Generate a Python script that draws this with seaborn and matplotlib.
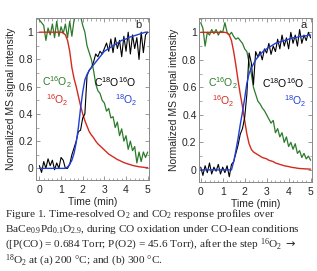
import numpy as np
import matplotlib
matplotlib.use("Agg")
import matplotlib.pyplot as plt
from matplotlib.ticker import MultipleLocator
import seaborn as sns

# time axis (min), 0.1 min sampling
time = np.linspace(0, 5, 51)

# panel b (300 C) - left
b_green = [1.09, 1.07, 1.05, 0.94, 1.03, 0.98, 1.06, 0.96, 1.08, 0.97,
           1.04, 0.99, 1.06, 0.96, 1.08, 0.97, 1.09, 1.12, 1.14, 1.12,
           1.05, 1.00, 0.90, 0.85, 0.80, 0.72, 0.62, 0.57, 0.55, 0.50,
           0.48, 0.42, 0.44, 0.37, 0.38, 0.30, 0.34, 0.24, 0.29, 0.20,
           0.24, 0.14, 0.20, 0.13, 0.16, 0.04, 0.12, 0.05, 0.12, 0.08, 0.12]
b_black = [0.02, -0.03, 0.05, 0.00, 0.07, 0.02, 0.06, -0.01, 0.04, 0.00,
           0.08, 0.06, 0.00, 0.00, 0.03, 0.10, 0.15, 0.20, 0.27, 0.28,
           0.37, 0.40, 0.68, 0.72, 0.74, 0.78, 0.84, 0.82, 0.86, 0.84,
           0.88, 0.92, 0.86, 0.95, 0.85, 0.96, 0.88, 0.94, 0.82, 0.97,
           0.86, 1.00, 0.84, 0.98, 0.88, 0.96, 0.80, 1.00, 0.85, 0.98, 1.00]
b_blue = [0.0, 0.0, 0.0, 0.0, 0.0, 0.0, 0.0, 0.0, 0.0, 0.0,
          0.0, 0.0, 0.0, 0.01, 0.03, 0.06, 0.11, 0.19, 0.30, 0.44,
          0.56, 0.65, 0.69, 0.72, 0.74, 0.76, 0.78, 0.80, 0.82, 0.84,
          0.86, 0.87, 0.88, 0.89, 0.90, 0.91, 0.92, 0.93, 0.94, 0.945,
          0.95, 0.96, 0.965, 0.97, 0.975, 0.98, 0.985, 0.99, 0.995, 1.0, 1.0]
b_red = [1.0, 1.0, 1.0, 1.0, 1.0, 1.0, 1.0, 1.0, 1.0, 1.0,
         1.0, 0.995, 0.98, 0.94, 0.86, 0.74, 0.66, 0.60, 0.53, 0.46,
         0.40, 0.35, 0.31, 0.27, 0.245, 0.225, 0.20, 0.18, 0.165, 0.15,
         0.135, 0.12, 0.105, 0.095, 0.085, 0.075, 0.065, 0.058, 0.05, 0.043,
         0.037, 0.032, 0.027, 0.022, 0.018, 0.015, 0.012, 0.01, 0.008, 0.006, 0.005]

# panel a (200 C) - right
a_green = [1.07, 1.03, 0.90, 1.00, 0.98, 1.02, 0.99, 1.02, 0.98, 1.01,
           1.00, 1.07, 1.00, 0.98, 1.00, 0.97, 0.95, 0.96, 0.94, 0.92,
           0.88, 0.86, 0.78, 0.70, 0.60, 0.55, 0.50, 0.48, 0.45, 0.43,
           0.40, 0.37, 0.34, 0.36, 0.27, 0.30, 0.24, 0.27, 0.20, 0.24,
           0.17, 0.20, 0.15, 0.19, 0.12, 0.14, 0.09, 0.12, 0.08, 0.10, 0.07]
a_black = [0.02, -0.04, 0.03, -0.02, 0.05, -0.03, 0.02, -0.01, 0.04, -0.03,
           0.02, -0.02, 0.03, -0.05, 0.04, 0.06, 0.12, 0.18, 0.26, 0.30,
           0.38, 0.55, 0.85, 0.78, 0.62, 0.86, 0.82, 0.86, 0.80, 0.88,
           0.85, 0.92, 0.84, 0.90, 0.86, 0.95, 0.88, 0.98, 0.90, 0.96,
           0.88, 1.00, 0.92, 0.98, 0.90, 1.02, 0.92, 0.98, 0.94, 1.00, 0.96]
a_blue = [0.0, 0.0, 0.0, 0.0, 0.0, 0.0, 0.0, 0.0, 0.0, 0.0,
          0.0, 0.0, 0.0, 0.0, 0.0, 0.06, 0.14, 0.23, 0.33, 0.42,
          0.52, 0.63, 0.70, 0.74, 0.77, 0.80, 0.82, 0.84, 0.855, 0.87,
          0.88, 0.89, 0.90, 0.91, 0.92, 0.925, 0.93, 0.935, 0.94, 0.945,
          0.95, 0.955, 0.96, 0.96, 0.965, 0.97, 0.97, 0.975, 0.975, 0.98, 0.98]
a_red = [1.0, 1.0, 1.0, 1.0, 1.0, 1.0, 1.0, 1.0, 1.0, 1.0,
         1.0, 1.0, 0.995, 0.98, 0.94, 0.86, 0.76, 0.65, 0.55, 0.46,
         0.36, 0.26, 0.19, 0.15, 0.13, 0.12, 0.11, 0.10, 0.09, 0.085,
         0.08, 0.07, 0.065, 0.06, 0.05, 0.045, 0.04, 0.035, 0.03, 0.027,
         0.024, 0.02, 0.017, 0.015, 0.012, 0.01, 0.009, 0.008, 0.007, 0.006, 0.005]

GREEN = "#2b7a2b"
RED = "#d42a1e"
BLUE = "#1f3fd8"
BLACK = "#000000"

sns.set_style("ticks")
plt.rcParams["font.family"] = ["Liberation Sans", "DejaVu Sans"]

fig = plt.figure(figsize=(3.17, 2.71), dpi=100)
ax_b = fig.add_axes([0.114, 0.336, 0.356, 0.598])
ax_a = fig.add_axes([0.629, 0.330, 0.355, 0.604])

panels = [
    (ax_b, b_green, b_black, b_blue, b_red, "b", (0.8, 3.5, 4.0), 4.55, -0.15),
    (ax_a, a_green, a_black, a_blue, a_red, "a", (1.03, 3.75, 4.3), 4.7, -0.06),
]

for ax, g, k, bl, r, tag, xs, tagx, xmin in panels:
    sns.lineplot(x=time, y=g, ax=ax, color=GREEN, lw=0.9)
    sns.lineplot(x=time, y=r, ax=ax, color=RED, lw=1.0)
    sns.lineplot(x=time, y=k, ax=ax, color=BLACK, lw=0.8)
    sns.lineplot(x=time, y=bl, ax=ax, color=BLUE, lw=1.0)
    ax.set_xlim(xmin, 5.06)
    ax.set_ylim(-0.085, 1.105)
    ax.xaxis.set_major_locator(MultipleLocator(1))
    ax.xaxis.set_minor_locator(MultipleLocator(0.2))
    ax.yaxis.set_minor_locator(MultipleLocator(0.1))
    ax.set_yticks([0, 0.2, 0.4, 0.6, 0.8, 1.0])
    ax.set_yticklabels(["0", "0.2", "0.4", "0.6", "0.8", "1"])
    ax.tick_params(which="both", direction="in", top=True, right=True,
                   labelsize=7.5, color="#888888")
    ax.tick_params(axis="x", pad=4)
    ax.tick_params(axis="y", pad=2)
    ax.tick_params(which="major", length=3, width=0.6)
    ax.tick_params(which="minor", length=1.8, width=0.5)
    for sp in ax.spines.values():
        sp.set_color("#888888")
        sp.set_linewidth(0.7)
    ax.set_xlabel("Time (min)", fontsize=7.5, labelpad=1)
    ax.set_ylabel("Normalized MS signal intensity", fontsize=7.5, labelpad=2)
    lab = dict(fontsize=7.5, ha="center", va="center")
    ax.text(xs[0], 0.63, r"C$\mathregular{^{16}}$O$\mathregular{_2}$", color=GREEN, **lab)
    ax.text(xs[0], 0.50, r"$\mathregular{^{16}}$O$\mathregular{_2}$", color=RED, **lab)
    ax.text(xs[1], 0.63, r"C$\mathregular{^{18}}$O$\mathregular{^{16}}$O", color=BLACK, **lab)
    ax.text(xs[2], 0.50, r"$\mathregular{^{18}}$O$\mathregular{_2}$", color=BLUE, **lab)
    ax.text(tagx, 1.05, tag, fontsize=8, ha="center", va="center")

cap = dict(fontsize=8.1, family=["Liberation Serif", "DejaVu Serif"], ha="left", va="baseline")
lines = [
    r"Figure 1. Time-resolved O$\mathregular{_2}$ and CO$\mathregular{_2}$ response profiles over",
    r"BaCe$\mathregular{_{0.9}}$Pd$\mathregular{_{0.1}}$O$\mathregular{_{2.9}}$, during CO oxidation under CO-lean conditions",
    r"([P(CO) = 0.684 Torr; P(O2) = 45.6 Torr), after the step $\mathregular{^{16}}$O$\mathregular{_2}$ $\rightarrow$",
    r"$\mathregular{^{18}}$O$\mathregular{_2}$ at (a) 200 °C; and (b) 300 °C.",
]
for i, s in enumerate(lines):
    fig.text(5 / 317, 1 - (217 + 15.5 * i) / 271, s, **cap)

fig.savefig("out.png", dpi=100)
